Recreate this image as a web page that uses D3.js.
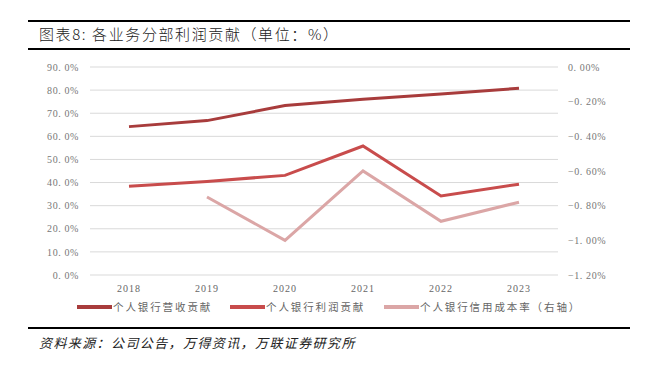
<!DOCTYPE html>
<html><head><meta charset="utf-8">
<script src="https://cdn.jsdelivr.net/npm/d3@7"></script>
<style>
html,body{margin:0;padding:0;background:#fff;}
svg{display:block;}
</style></head>
<body>
<svg id="c" width="652" height="372"></svg>
<script>
const years = ["2018","2019","2020","2021","2022","2023"];
const revenueContribution = [64.2, 66.8, 73.3, 76.0, 78.3, 80.8];
const profitContribution = [38.4, 40.5, 43.1, 55.8, 34.2, 39.3];
const creditCostYears = ["2019","2020","2021","2022","2023"];
const creditCostRate = [-0.75, -1.00, -0.60, -0.89, -0.78];
const leftTicks = [0,10,20,30,40,50,60,70,80,90];
const rightTicks = [0,-0.2,-0.4,-0.6,-0.8,-1.0,-1.2];
const seriesNames = ["个人银行营收贡献","个人银行利润贡献","个人银行信用成本率（右轴）"];
const seriesColors = ["#a83c3c","#c84c4c","#dba6a6"];

(function(){
const svg = d3.select("#c");
const cjk = "'Noto Sans CJK SC','Noto Sans',sans-serif";
const serif = "'Liberation Serif','DejaVu Serif',serif";

// frame rules
svg.append("rect").attr("x",28).attr("y",20).attr("width",602).attr("height",2).attr("fill","#000");
svg.append("rect").attr("x",28).attr("y",48).attr("width",602).attr("height",2).attr("fill","#000");
svg.append("rect").attr("x",28).attr("y",327).attr("width",602).attr("height",2).attr("fill","#000");

svg.append("text").attr("x",39).attr("y",40).attr("font-family",cjk).attr("font-size",15)
  .attr("font-weight",300).attr("letter-spacing","1.6px")
  .attr("fill","#222").text("图表8: 各业务分部利润贡献（单位：%）");
svg.append("text").attr("x",39).attr("y",348).attr("font-family",cjk).attr("font-size",13)
  .attr("font-style","italic").attr("letter-spacing","1.4px").attr("fill","#222").text("资料来源：公司公告，万得资讯，万联证券研究所");

const pL = 90, pR = 558, pT = 67, pB = 275;
const x = d3.scaleBand().domain(years).range([pL,pR]);
const yL = d3.scaleLinear().domain([0,90]).range([pB,pT]);
const yR = d3.scaleLinear().domain([-1.2,0]).range([pB,pT]);

// gridlines
svg.append("g").selectAll("line").data(leftTicks).join("line")
  .attr("x1",pL).attr("x2",pR).attr("y1",d=>yL(d)).attr("y2",d=>yL(d))
  .attr("stroke","#d9d9d9").attr("stroke-width",1);

// left axis
const gl = svg.append("g").attr("transform",`translate(${pL},0)`)
  .call(d3.axisLeft(yL).tickValues(leftTicks).tickSize(0).tickPadding(11).tickFormat(d=>d3.format(".1f")(d).replace(".",". ")+"%"));
gl.select(".domain").remove();
gl.selectAll("text").attr("font-family",serif).attr("font-size",10).attr("fill","#777").attr("letter-spacing","0.6px");

// right axis
const gr = svg.append("g").attr("transform",`translate(${pR},0)`)
  .call(d3.axisRight(yR).tickValues(rightTicks).tickSize(0).tickPadding(10).tickFormat(d=>(d<0?"−":"")+d3.format(".2f")(Math.abs(d)).replace(".",". ")+"%"));
gr.select(".domain").remove();
gr.selectAll("text").attr("font-family",serif).attr("font-size",10).attr("fill","#777").attr("letter-spacing","0.6px");

// x axis
const gx = svg.append("g").attr("transform",`translate(0,${pB})`)
  .call(d3.axisBottom(x).tickSize(0).tickPadding(10));
gx.select(".domain").remove();
gx.selectAll("text").attr("font-family",serif).attr("font-size",10).attr("fill","#666").attr("letter-spacing","1px");

const cx = d => x(d)+x.bandwidth()/2;
const lineL = d3.line().x(d=>cx(d[0])).y(d=>yL(d[1]));
const lineR = d3.line().x(d=>cx(d[0])).y(d=>yR(d[1]));

svg.append("path").datum(creditCostYears.map((y,i)=>[y,creditCostRate[i]]))
  .attr("d",lineR).attr("fill","none").attr("stroke",seriesColors[2]).attr("stroke-width",3);
svg.append("path").datum(years.map((y,i)=>[y,profitContribution[i]]))
  .attr("d",lineL).attr("fill","none").attr("stroke",seriesColors[1]).attr("stroke-width",3);
svg.append("path").datum(years.map((y,i)=>[y,revenueContribution[i]]))
  .attr("d",lineL).attr("fill","none").attr("stroke",seriesColors[0]).attr("stroke-width",3);

// legend
const legX = [77, 230, 384];
const lg = svg.append("g");
seriesNames.forEach((n,i)=>{
  lg.append("line").attr("x1",legX[i]).attr("x2",legX[i]+35).attr("y1",307).attr("y2",307)
    .attr("stroke",seriesColors[i]).attr("stroke-width",4);
  lg.append("text").attr("x",legX[i]+36).attr("y",311).attr("font-family",cjk).attr("font-size",10.5)
    .attr("fill","#666").attr("letter-spacing","1.9px").text(n);
});
})();
</script>
</body></html>
